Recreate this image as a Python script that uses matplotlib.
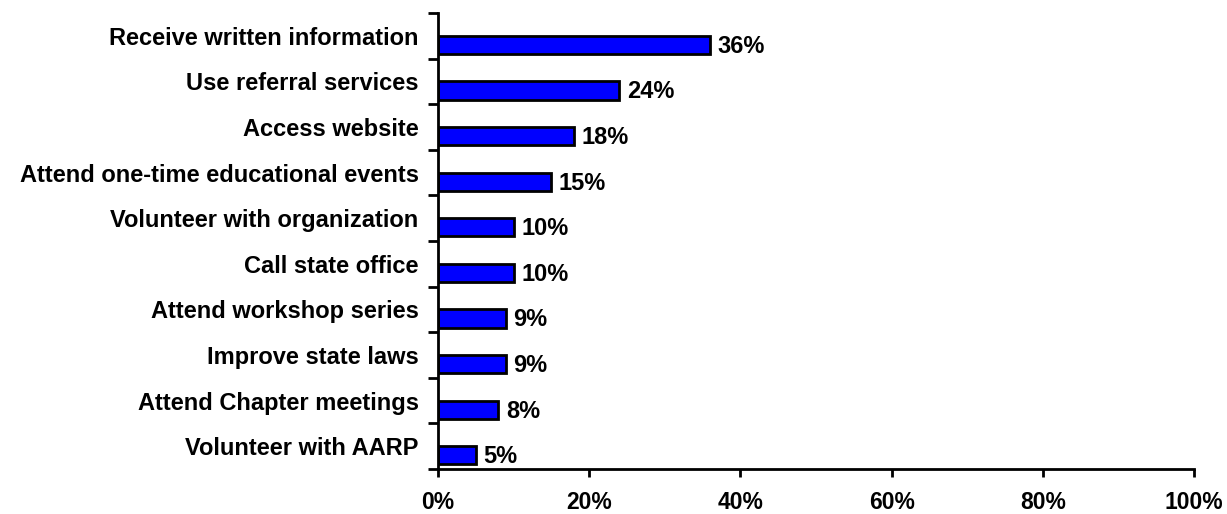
import matplotlib
matplotlib.use("Agg")
import matplotlib.pyplot as plt
import numpy as np

categories = ["Receive written information", "Use referral services", "Access website",
              "Attend one-time educational events", "Volunteer with organization",
              "Call state office", "Attend workshop series", "Improve state laws",
              "Attend Chapter meetings", "Volunteer with AARP"]
values = [36, 24, 18, 15, 10, 10, 9, 9, 8, 5]
xticks = [0, 20, 40, 60, 80, 100]
xtick_labels = ["0%", "20%", "40%", "60%", "80%", "100%"]

plt.rcParams['font.family'] = ['Liberation Sans', 'DejaVu Sans']
plt.rcParams['font.weight'] = 'bold'

fig = plt.figure(figsize=(12.27, 5.14), dpi=100)
ax = fig.add_axes([438/1227, 1-469/514, (1194-438)/1227, (469-13)/514])

n = len(categories)
pos = np.arange(n)
ax.barh(pos + 0.2, values, height=0.4, color='#0000FF', edgecolor='black', linewidth=2)
for p, v in zip(pos, values):
    ax.text(v + 1.0, p + 0.23, f"{v}%", va='center', ha='left', fontsize=17, fontweight='bold')

ax.set_xlim(0, 100)
ax.set_ylim(n - 0.5, -0.5)
ax.set_yticks(pos)
ax.set_yticklabels(categories, fontsize=17, fontweight='bold')
ax.set_yticks(np.arange(n + 1) - 0.5, minor=True)
ax.tick_params(axis='y', which='major', length=0, pad=14)
ax.tick_params(axis='y', which='minor', length=7, width=2, direction='out')
ax.set_xticks(xticks)
ax.set_xticklabels(xtick_labels, fontsize=16.5, fontweight='bold')
ax.tick_params(axis='x', length=6, width=2, direction='out', pad=10)

for s in ['top', 'right']:
    ax.spines[s].set_visible(False)
for s in ['left', 'bottom']:
    ax.spines[s].set_linewidth(2)

fig.savefig("out.png", dpi=100)
